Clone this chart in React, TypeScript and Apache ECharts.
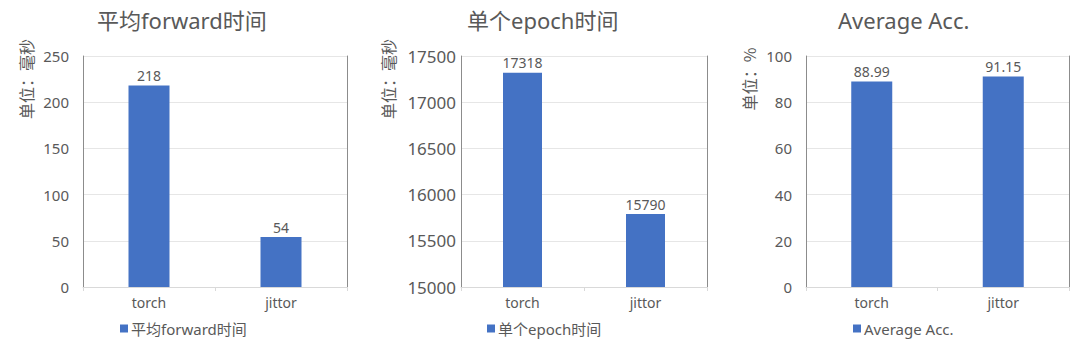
import React, { useEffect, useRef } from "react";
import * as echarts from "echarts";

// Categories shared by all three panels
const categories = ["torch", "jittor"];

// Panel values
const forwardTime = [218, 54];
const epochTime = [17318, 15790];
const averageAcc = [88.99, 91.15];

// Panel titles / series names
const titles = ["平均forward时间", "单个epoch时间", "Average Acc."];
const unitNames = ["单位：毫秒", "单位：毫秒", "单位：%"];

// Y-axis ranges [min, max, interval]
const yRanges = [
  [0, 250, 50],
  [15000, 17500, 500],
  [0, 100, 20],
];

const FONT = '"Noto Sans", "Noto Sans CJK SC", sans-serif';
const CJK = '"Noto Sans CJK SC", sans-serif';
const TEXT = "#595959";
const BAR = "#4472C4";

// Layout of each panel (pixels)
const panels = [
  { left: 83, right: 347, labelMargin: 14, barWidth: 41, titleLeft: 92, unitX: 26, legendLeft: 120, yFont: 15 },
  { left: 461, right: 707, labelMargin: 5, barWidth: 39, titleLeft: 462, unitX: 388, legendLeft: 487, yFont: 17 },
  { left: 806, right: 1069, labelMargin: 14, barWidth: 41, titleLeft: 833, unitX: 749, legendLeft: 853, yFont: 15 },
];

const seriesData = [forwardTime, epochTime, averageAcc];

export default function App() {
  const ref = useRef<HTMLDivElement>(null);

  useEffect(() => {
    document.body.style.margin = "0";
    const chart = echarts.init(ref.current!, null, { renderer: "svg" });

    const grid = panels.map((p) => ({
      left: p.left,
      width: p.right - p.left,
      top: 56,
      bottom: 64,
    }));

    const xAxis = panels.map((p, i) => ({
      type: "category",
      gridIndex: i,
      data: categories,
      axisLine: { lineStyle: { color: "#d9d9d9" } },
      axisTick: { show: true, length: 4, lineStyle: { color: "#d9d9d9" } },
      axisLabel: { color: TEXT, fontSize: 14, fontFamily: FONT, margin: 8 },
    }));

    const yAxis: any[] = [];
    panels.forEach((p, i) => {
      const [min, max, interval] = yRanges[i];
      yAxis.push({
        type: "value",
        gridIndex: i,
        min,
        max,
        interval,
        axisLine: { show: true, lineStyle: { color: "#8c8c8c" } },
        axisTick: { show: false },
        axisLabel: {
          color: TEXT,
          fontSize: p.yFont,
          fontFamily: FONT,
          margin: p.labelMargin,
          formatter: (v: number) => String(v),
        },
        splitLine: { lineStyle: { color: "#e6e6e6" } },
      });
    });
    panels.forEach((p, i) => {
      const [min, max, interval] = yRanges[i];
      yAxis.push({
        type: "value",
        gridIndex: i,
        position: "right",
        min,
        max,
        interval,
        axisLine: { show: true, lineStyle: { color: "#8c8c8c" } },
        axisTick: { show: false },
        axisLabel: { show: false },
        splitLine: { show: false },
      });
    });

    const series = panels.map((p, i) => ({
      type: "bar",
      name: titles[i],
      xAxisIndex: i,
      yAxisIndex: i,
      data: seriesData[i],
      barWidth: p.barWidth,
      itemStyle: { color: BAR },
      label: {
        show: true,
        position: "top",
        distance: 3,
        color: TEXT,
        fontSize: 14,
        fontFamily: FONT,
      },
    }));

    const title = panels.map((p, i) => ({
      text: titles[i],
      left: p.titleLeft,
      top: 4,
      textStyle: { color: TEXT, fontSize: 22, fontWeight: "normal", fontFamily: FONT },
    }));

    const legend = panels.map((p, i) => ({
      data: [titles[i]],
      left: p.legendLeft,
      top: 321,
      padding: 0,
      icon: "rect",
      itemWidth: 8,
      itemHeight: 8,
      itemGap: 4,
      textStyle: { color: TEXT, fontSize: 15, fontFamily: FONT, padding: [0, 0, 0, -2] },
    }));

    const graphic = panels.map((p, i) => ({
      type: "text",
      x: p.unitX,
      y: 79,
      rotation: Math.PI / 2,
      style: {
        text: unitNames[i],
        fill: TEXT,
        fontSize: 16,
        fontFamily: CJK,
        textAlign: "center",
        textVerticalAlign: "middle",
      },
    }));

    chart.setOption({
      animation: false,
      backgroundColor: "#ffffff",
      title,
      legend,
      grid,
      xAxis,
      yAxis,
      series,
      graphic,
    } as any);

    return () => chart.dispose();
  }, []);

  return <div ref={ref} style={{ width: 1080, height: 351 }} />;
}
